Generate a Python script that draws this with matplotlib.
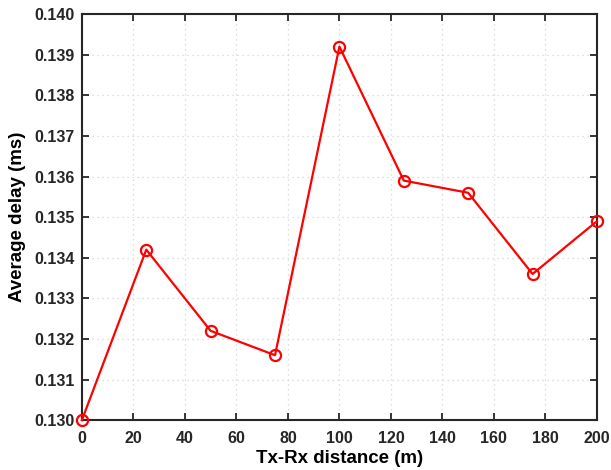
import matplotlib
matplotlib.use('Agg')
import matplotlib.pyplot as plt

# Datos
distancia = [0, 25, 50, 75, 100, 125, 150, 175, 200]
retardo = [0.1300, 0.1342, 0.1322, 0.1316, 0.1392, 0.1359, 0.1356, 0.1336, 0.1349]
xticks = [0, 20, 40, 60, 80, 100, 120, 140, 160, 180, 200]
yticks = [0.130, 0.131, 0.132, 0.133, 0.134, 0.135, 0.136, 0.137, 0.138, 0.139, 0.140]

plt.rcParams['font.family'] = ['Liberation Sans', 'DejaVu Sans']
plt.rcParams['font.weight'] = 'bold'

fig = plt.figure(figsize=(6.11, 4.70), dpi=100)
ax = fig.add_axes([0.134, 0.106, 0.843, 0.864])

ax.plot(distancia, retardo, color='red', linewidth=1.6, marker='o',
        markersize=8, markerfacecolor='none', markeredgewidth=1.6,
        clip_on=False, zorder=3)

ax.set_xlim(0, 200)
ax.set_ylim(0.130, 0.140)
ax.set_xticks(xticks)
ax.set_yticks(yticks)
ax.set_yticklabels([f'{v:.3f}' for v in yticks])
ax.tick_params(direction='in', top=True, right=True, length=5, width=1.3,
               labelsize=11.5, colors='#262626')
ax.tick_params(axis='x', pad=8)
ax.tick_params(axis='y', pad=5)
for s in ax.spines.values():
    s.set_linewidth(1.5)
    s.set_color('#262626')

ax.grid(True, linestyle=(0, (1, 3)), color='#d4d4d4', linewidth=0.9)
ax.set_xlabel('Tx-Rx distance (m)', fontsize=13.5, fontweight='bold', labelpad=3)
ax.set_ylabel('Average delay (ms)', fontsize=13.5, fontweight='bold', labelpad=6)

fig.savefig('out.png', dpi=100)
